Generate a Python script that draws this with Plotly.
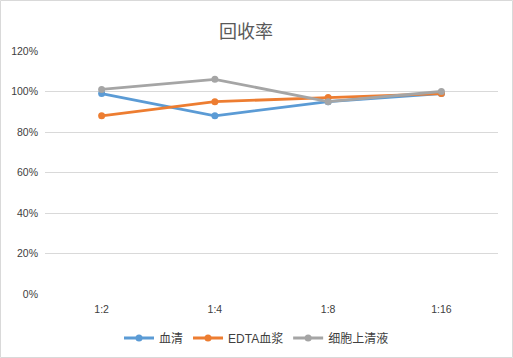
import plotly.graph_objects as go

categories = ["1:2", "1:4", "1:8", "1:16"]
serum = [0.99, 0.88, 0.95, 0.99]
edta_plasma = [0.88, 0.95, 0.97, 0.99]
cell_supernatant = [1.01, 1.06, 0.95, 1.00]
series_names = ["血清", "EDTA血浆", "细胞上清液"]
colors = ["#5B9BD5", "#ED7D31", "#A5A5A5"]
y_ticks = [0, 0.2, 0.4, 0.6, 0.8, 1.0, 1.2]

fig = go.Figure()
for name, vals, c in zip(series_names, [serum, edta_plasma, cell_supernatant], colors):
    fig.add_trace(go.Scatter(
        x=categories, y=vals, name=name, mode="lines+markers",
        line=dict(color=c, width=2.8), marker=dict(color=c, size=7),
    ))

font_family = "Liberation Sans, Noto Sans CJK SC, sans-serif"
fig.update_layout(
    width=513, height=358,
    margin=dict(l=45, r=15, t=51, b=64, autoexpand=False),
    paper_bgcolor="white", plot_bgcolor="white",
    font=dict(family=font_family, color="#404040", size=11),
    title=dict(text="回收率", x=246/513, xanchor="center", y=1-32/358, yanchor="middle",
               font=dict(size=18, color="#595959", family="Noto Sans CJK SC, sans-serif")),
    xaxis=dict(type="category", range=[-0.5, 3.5], showgrid=False, showline=False,
               ticks="", tickfont=dict(size=10.5, color="#404040"), zeroline=False,
               ticklabelstandoff=7, automargin=False),
    yaxis=dict(range=[0, 1.2], tickvals=y_ticks, tickformat=".0%", showgrid=True,
               gridcolor="#D9D9D9", gridwidth=1, zeroline=False, showline=False,
               ticks="", tickfont=dict(size=10.5, color="#404040"), ticklabelstandoff=6,
               automargin=False),
    legend=dict(orientation="h", xref="container", yref="container", x=0.5, xanchor="center",
                y=1-338/358, yanchor="middle", font=dict(size=12, color="#404040"),
                itemwidth=30, tracegroupgap=0),
    showlegend=True,
    hovermode=False,
)
fig.add_shape(type="rect", xref="paper", yref="paper",
              x0=-44.5/453, x1=(512.5-45)/453, y0=(294-357.5)/243, y1=(294-0.5)/243,
              line=dict(color="#D9D9D9", width=1), fillcolor="rgba(0,0,0,0)", layer="below")
fig.write_html("out.html", config={"displayModeBar": False},
               post_script="document.body.style.margin='0';document.body.style.overflow='hidden';")
